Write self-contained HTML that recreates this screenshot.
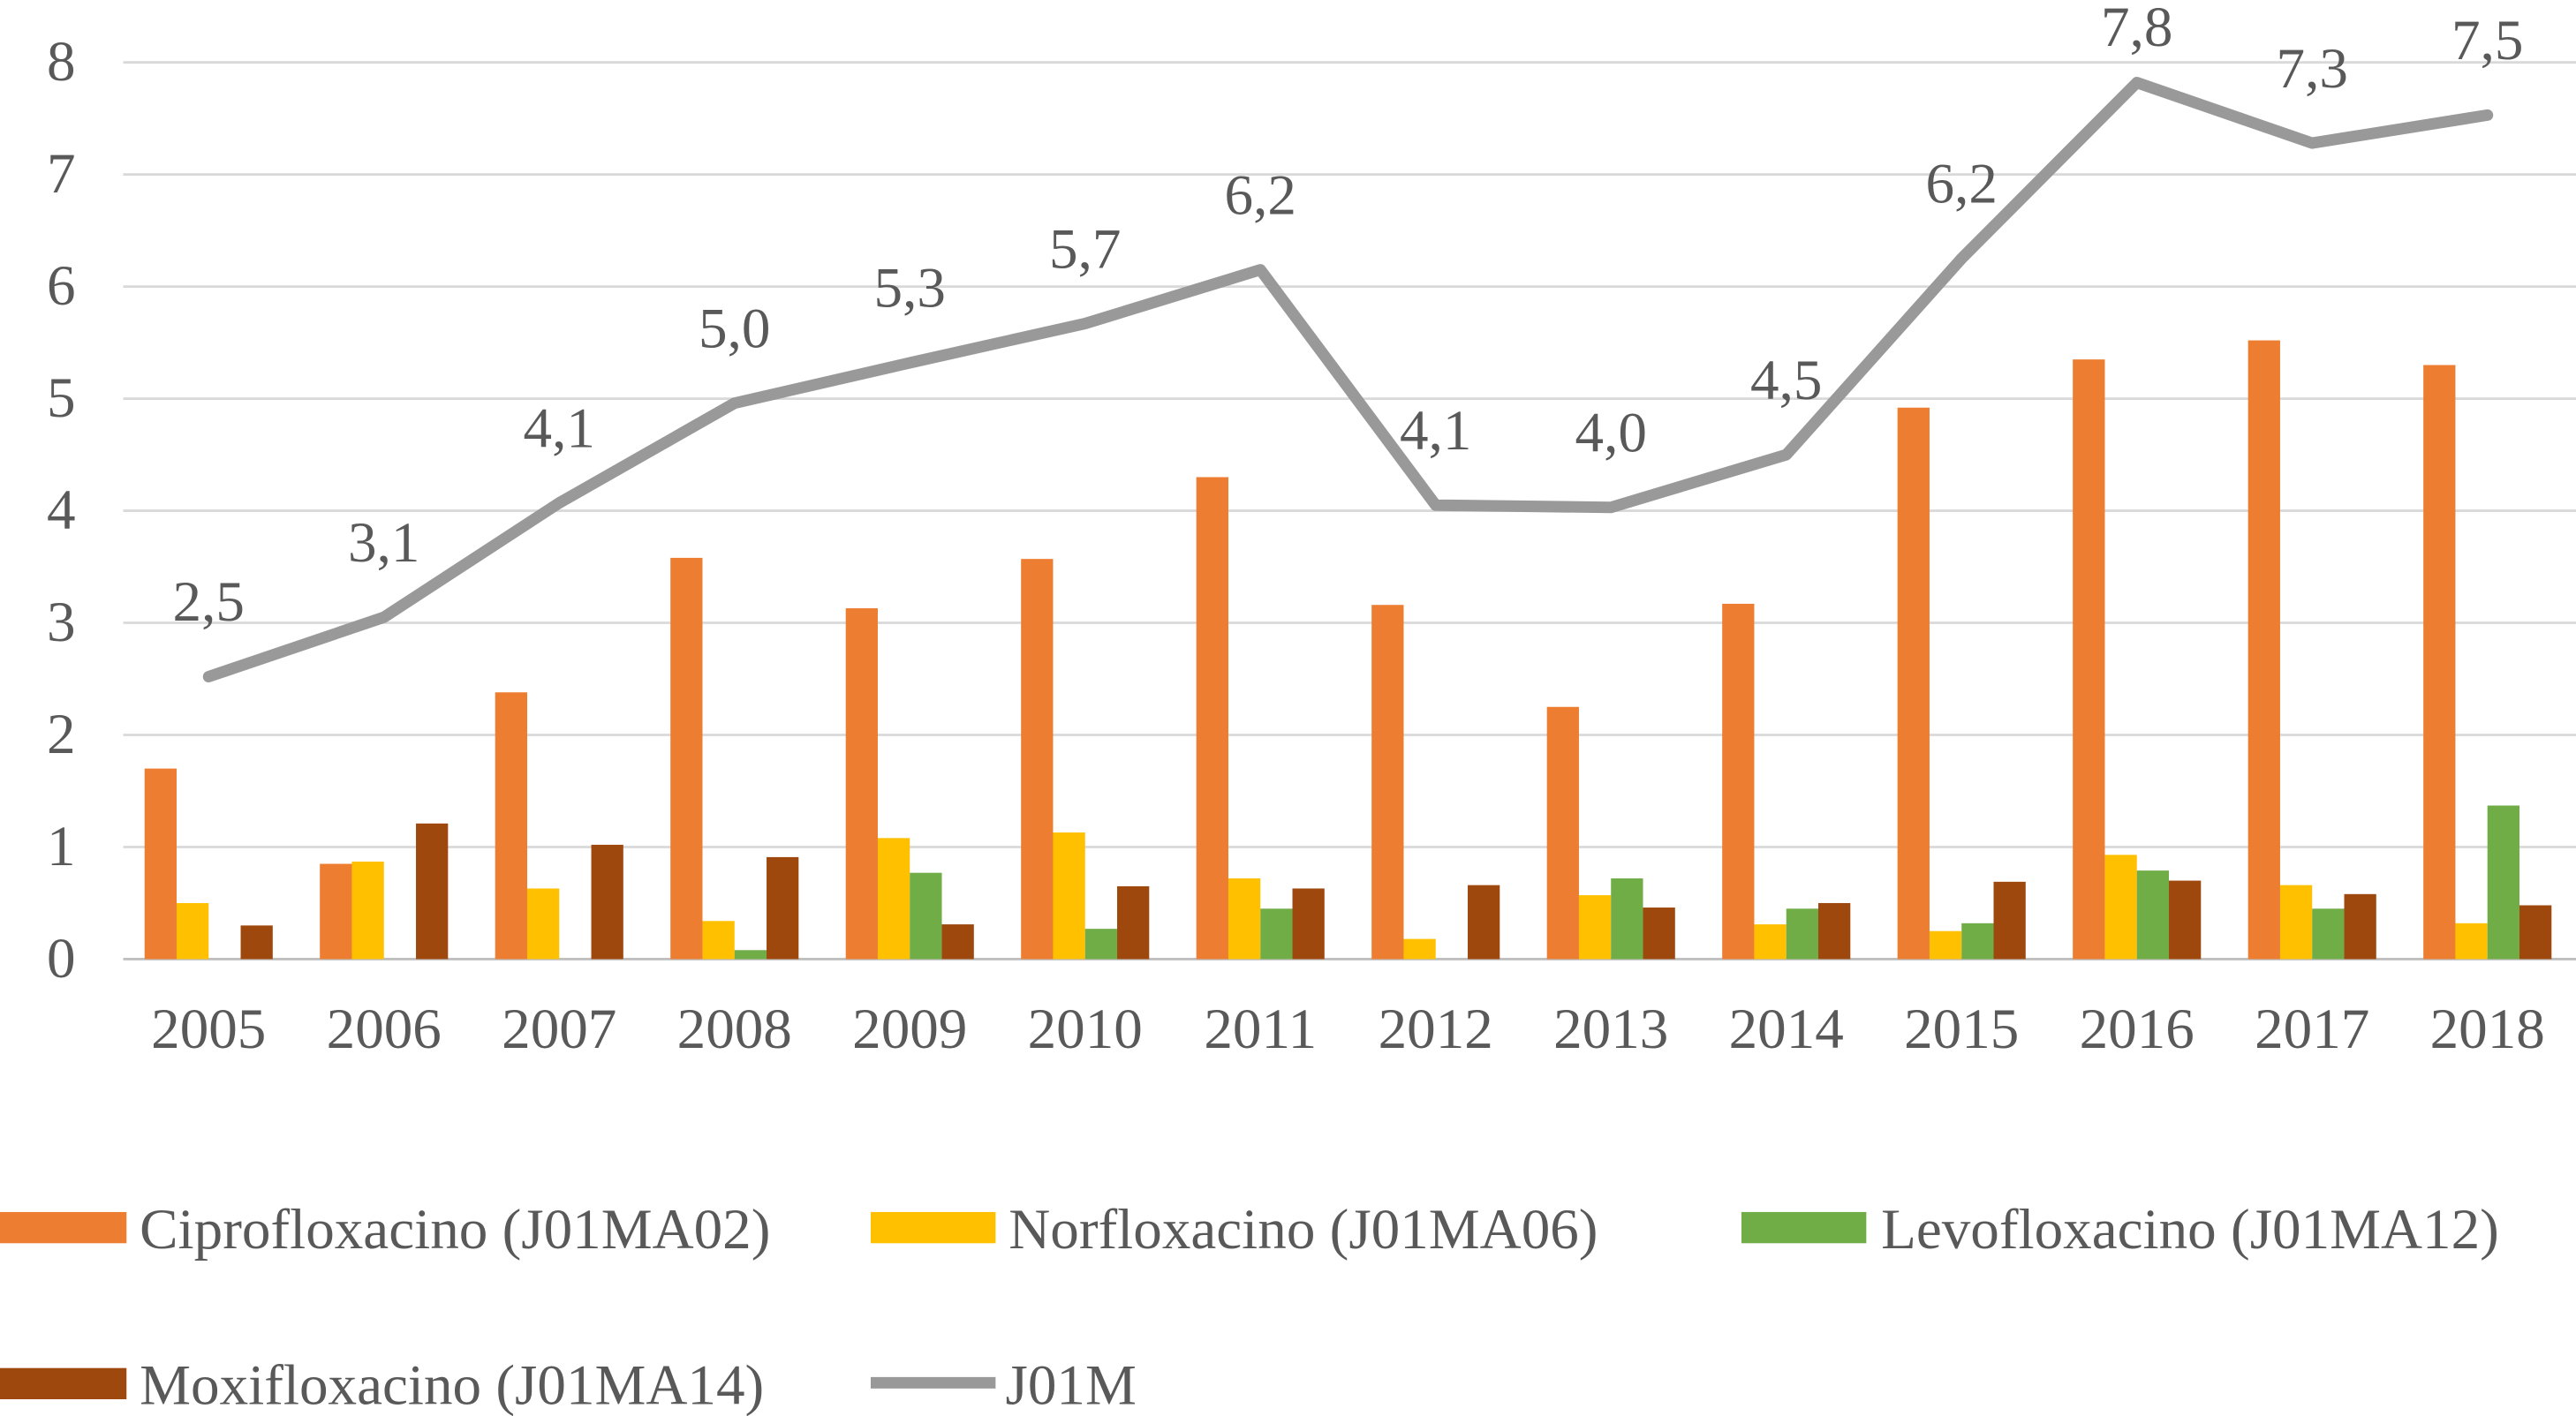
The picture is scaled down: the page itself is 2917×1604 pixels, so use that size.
<!DOCTYPE html>
<html><head><meta charset="utf-8"><style>
html,body{margin:0;padding:0;background:#fff;}
svg{display:block;}
text{font-family:"Liberation Serif",serif;fill:#595959;}
</style></head><body>
<svg id="chart" width="2917" height="1604" viewBox="0 0 1568 862.2" preserveAspectRatio="none" xmlns="http://www.w3.org/2000/svg">
<g id="grid"></g>
<g id="yticks"></g>
<g id="bars"></g>
<g id="line"></g>
<g id="xticks"></g>
<g id="legend">
  <rect x="0" y="738" width="77" height="19" fill="#ED7D31"/>
  <text x="85" y="760" font-size="35">Ciprofloxacino (J01MA02)</text>
  <rect x="530" y="738" width="76" height="19" fill="#FFC000"/>
  <text x="614" y="760" font-size="35">Norfloxacino (J01MA06)</text>
  <rect x="1060" y="738" width="76" height="19" fill="#70AD47"/>
  <text x="1145" y="760" font-size="35">Levofloxacino (J01MA12)</text>
  <rect x="0" y="833" width="77" height="19" fill="#9E480E"/>
  <text x="85" y="855" font-size="35">Moxifloxacino (J01MA14)</text>
  <line x1="530" y1="842" x2="606" y2="842" stroke="#999" stroke-width="7"/>
  <text x="612" y="855" font-size="35">J01M</text>
</g>
</svg>
<script>
const years=[2005,2006,2007,2008,2009,2010,2011,2012,2013,2014,2015,2016,2017,2018];
const cipro=[1.7,0.85,2.38,3.58,3.13,3.57,4.3,3.16,2.25,3.17,4.92,5.35,5.52,5.3];
const norflox=[0.5,0.87,0.63,0.34,1.08,1.13,0.72,0.18,0.57,0.31,0.25,0.93,0.66,0.32];
const levo=[0,0,0,0.08,0.77,0.27,0.45,0,0.72,0.45,0.32,0.79,0.45,1.37];
const moxi=[0.3,1.21,1.02,0.91,0.31,0.65,0.63,0.66,0.46,0.5,0.69,0.7,0.58,0.48];
const j01m=[2.52,3.05,4.07,4.96,5.32,5.67,6.15,4.05,4.03,4.5,6.25,7.82,7.28,7.53];
const j01mLabels=["2,5","3,1","4,1","5,0","5,3","5,7","6,2","4,1","4,0","4,5","6,2","7,8","7,3","7,5"];
const yTicks=[0,1,2,3,4,5,6,7,8];
const NS="http://www.w3.org/2000/svg";
const y=v=>584-v*68.25;
const x=i=>127+i*106.7;
function mk(tag,attrs,parent){const e=document.createElementNS(NS,tag);for(const k in attrs)e.setAttribute(k,attrs[k]);parent.appendChild(e);return e;}
const grid=document.getElementById('grid'),yt=document.getElementById('yticks');
yTicks.forEach(t=>{
  const l=mk('line',{x1:75,x2:1568,y1:y(t),y2:y(t),stroke:t===0?'#bfbfbf':'#d9d9d9','stroke-width':1.5},grid);
  
  
  const tx=mk('text',{x:46,y:y(t)+11,'font-size':35,'text-anchor':'end'},yt);
  tx.textContent=t;
  
  
});
const bars=document.getElementById('bars');
const series=[[cipro,'#ED7D31','cipro'],[norflox,'#FFC000','norflox'],[levo,'#70AD47','levo'],[moxi,'#9E480E','moxi']];
years.forEach((yr,i)=>{
  series.forEach((s,k)=>{
    const v=s[0][i];
    const r=mk('rect',{x:x(i)-39+k*19.5,y:y(v),width:19.5,height:584-y(v),fill:s[1]},bars);
    
    
  });
  const tx=mk('text',{x:x(i),y:638,'font-size':35,'text-anchor':'middle'},document.getElementById('xticks'));
  tx.textContent=yr;
  
  
});
const lg=document.getElementById('line');
const p=mk('polyline',{points:j01m.map((v,i)=>x(i)+','+y(v)).join(' '),fill:'none',stroke:'#999','stroke-width':7,'stroke-linejoin':'round','stroke-linecap':'round'},lg);


j01m.forEach((v,i)=>{
  const tx=mk('text',{x:x(i),y:Math.max(28,y(v)-34),'font-size':35,'text-anchor':'middle'},lg);
  tx.textContent=j01mLabels[i];
  
  
});
</script>
</body></html>
